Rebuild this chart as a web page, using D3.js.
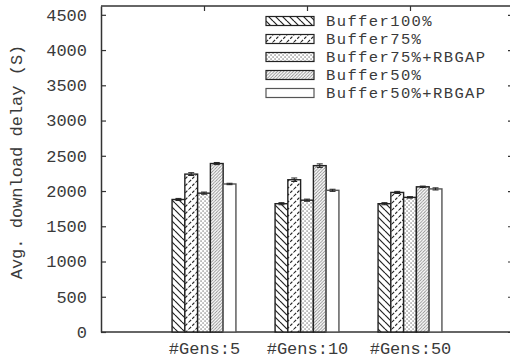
<!DOCTYPE html>
<html>
<head>
<meta charset="utf-8">
<script src="https://cdn.jsdelivr.net/npm/d3@7"></script>
<style>
  html, body { margin: 0; padding: 0; background: #fff; }
  svg { display: block; }
  text { font-family: "Liberation Mono", "DejaVu Sans Mono", monospace; fill: #3a3a3a; }
</style>
</head>
<body>
<svg id="chart" width="510" height="361"></svg>
<script>
// Groups along the x axis
const categories = ["#Gens:5", "#Gens:10", "#Gens:50"];
// Buffer configurations (one bar per group each)
const seriesNames = ["Buffer100%", "Buffer75%", "Buffer75%+RBGAP", "Buffer50%", "Buffer50%+RBGAP"];
// Average download delay (s) per series, one value per group
const buffer100 = [1880, 1820, 1820];
const buffer75 = [2240, 2160, 1980];
const buffer75Rbgap = [1970, 1870, 1910];
const buffer50 = [2390, 2360, 2060];
const buffer50Rbgap = [2100, 2010, 2030];
// Error half-widths (s)
const err100 = [15, 15, 15];
const err75 = [20, 25, 15];
const err75Rbgap = [15, 15, 10];
const err50 = [15, 25, 10];
const err50Rbgap = [10, 15, 15];
const yTicks = [0, 500, 1000, 1500, 2000, 2500, 3000, 3500, 4000, 4500];

const seriesValues = [buffer100, buffer75, buffer75Rbgap, buffer50, buffer50Rbgap];
const seriesErrors = [err100, err75, err75Rbgap, err50, err50Rbgap];

const svg = d3.select("#chart");
const plot = { left: 101, right: 513, top: 6, bottom: 332 };
const axisColor = "#333";

const x = d3.scaleLinear().domain([0, categories.length + 1]).range([plot.left, plot.right]);
const y = d3.scaleLinear().domain([0, 4625]).range([plot.bottom, plot.top]);
const barW = 0.124; // in category units

// Fill patterns
const defs = svg.append("defs");
function linePattern(id, size, dir, stroke, width, dash) {
  const p = defs.append("pattern").attr("id", id).attr("patternUnits", "userSpaceOnUse")
    .attr("width", size).attr("height", size);
  p.append("rect").attr("width", size).attr("height", size).attr("fill", "#fff");
  const segs = dir === "back"
    ? [[0, 0, size, size], [-size, 0, 0, size], [0, -size, size, 0]]
    : [[0, size, size, 0], [-size, size, 0, 0], [0, 2 * size, size, size]];
  segs.forEach(s => {
    const l = p.append("line").attr("x1", s[0]).attr("y1", s[1]).attr("x2", s[2]).attr("y2", s[3])
      .attr("stroke", stroke).attr("stroke-width", width);
    if (dash) l.attr("stroke-dasharray", dash);
  });
}
linePattern("pat0", 7, "back", "#222", 1.2);
linePattern("pat1", 7, "fwd", "#222", 1.1, "3,1.6");
const dots = defs.append("pattern").attr("id", "pat2").attr("patternUnits", "userSpaceOnUse")
  .attr("width", 4).attr("height", 4);
dots.append("rect").attr("width", 4).attr("height", 4).attr("fill", "#fff");
dots.append("rect").attr("x", 0.5).attr("y", 0.5).attr("width", 1.1).attr("height", 1.1).attr("fill", "#444");
dots.append("rect").attr("x", 2.5).attr("y", 2.5).attr("width", 1.1).attr("height", 1.1).attr("fill", "#444");
linePattern("pat3", 3.2, "fwd", "#888", 0.9);
const fills = ["url(#pat0)", "url(#pat1)", "url(#pat2)", "url(#pat3)", "#fff"];
const outlines = ["#222", "#222", "#222", "#222", "#555"];

// Border
svg.append("line").attr("x1", plot.left).attr("x2", plot.right).attr("y1", plot.top).attr("y2", plot.top)
  .attr("stroke", axisColor).attr("stroke-width", 1.5);
svg.append("line").attr("x1", plot.left).attr("x2", plot.right).attr("y1", plot.bottom).attr("y2", plot.bottom)
  .attr("stroke", axisColor).attr("stroke-width", 1.5);

// Left axis
const yAxis = svg.append("g").attr("transform", `translate(${plot.left},0)`)
  .call(d3.axisLeft(y).tickValues(yTicks).tickFormat(d3.format("d"))
    .tickSizeInner(-5).tickSizeOuter(0).tickPadding(14));
yAxis.select(".domain").attr("stroke", axisColor).attr("stroke-width", 1.5);
yAxis.selectAll(".tick line").attr("stroke", axisColor).attr("stroke-width", 1.2);
yAxis.selectAll(".tick text").attr("font-size", 17).attr("font-family", "Liberation Mono").attr("fill", "#3a3a3a");

// Right axis (mirror ticks)
const yAxisR = svg.append("g").attr("transform", `translate(${plot.right},0)`)
  .call(d3.axisRight(y).tickValues(yTicks).tickSizeInner(-5).tickSizeOuter(0).tickFormat(""));
yAxisR.select(".domain").attr("stroke", axisColor).attr("stroke-width", 1.5);
yAxisR.selectAll(".tick line").attr("stroke", axisColor).attr("stroke-width", 1.2);

// Top mirror ticks at group centres
const catIdx = categories.map((c, i) => i + 1);
const xTop = svg.append("g").attr("transform", `translate(0,${plot.top})`)
  .call(d3.axisTop(x).tickValues(catIdx).tickSizeInner(-5).tickSizeOuter(0).tickFormat(""));
xTop.select(".domain").remove();
xTop.selectAll(".tick line").attr("stroke", axisColor).attr("stroke-width", 1.2);

// Bottom axis labels
const xBot = svg.append("g").attr("transform", `translate(0,${plot.bottom})`)
  .call(d3.axisBottom(x).tickValues(catIdx).tickSizeInner(0).tickSizeOuter(0).tickPadding(10)
    .tickFormat((d, i) => categories[i]));
xBot.select(".domain").remove();
xBot.selectAll(".tick text").attr("font-size", 17).attr("font-family", "Liberation Mono").attr("fill", "#3a3a3a");

// Y label
svg.append("text").attr("transform", `translate(22,162) rotate(-90)`)
  .attr("text-anchor", "middle").attr("font-size", 17).text("Avg. download delay (S)");

// Bars
const bars = svg.append("g");
seriesValues.forEach((vals, s) => {
  vals.forEach((v, g) => {
    const x0 = x(g + 1 + (s - 2.5) * barW);
    const x1 = x(g + 1 + (s - 1.5) * barW);
    bars.append("rect").attr("x", x0).attr("y", y(v)).attr("width", x1 - x0).attr("height", y(0) - y(v))
      .attr("fill", fills[s]).attr("stroke", outlines[s]).attr("stroke-width", 1.4);
    const e = seriesErrors[s][g];
    const cx = (x0 + x1) / 2;
    bars.append("line").attr("x1", cx).attr("x2", cx).attr("y1", y(v + e)).attr("y2", y(v - e))
      .attr("stroke", "#222").attr("stroke-width", 1);
    [v + e, v - e].forEach(t => bars.append("line").attr("x1", cx - 3).attr("x2", cx + 3)
      .attr("y1", y(t)).attr("y2", y(t)).attr("stroke", "#222").attr("stroke-width", 1));
  });
});

// Legend
const legend = svg.append("g");
seriesNames.forEach((name, i) => {
  const cy = 21 + i * 18;
  legend.append("rect").attr("x", 266).attr("y", cy - 4.5).attr("width", 48).attr("height", 9)
    .attr("fill", fills[i]).attr("stroke", outlines[i]).attr("stroke-width", 1.2);
  legend.append("text").attr("x", 326).attr("y", cy + 5).attr("font-size", 15.5)
    .attr("letter-spacing", "1.4px").text(name);
});
</script>
</body>
</html>
